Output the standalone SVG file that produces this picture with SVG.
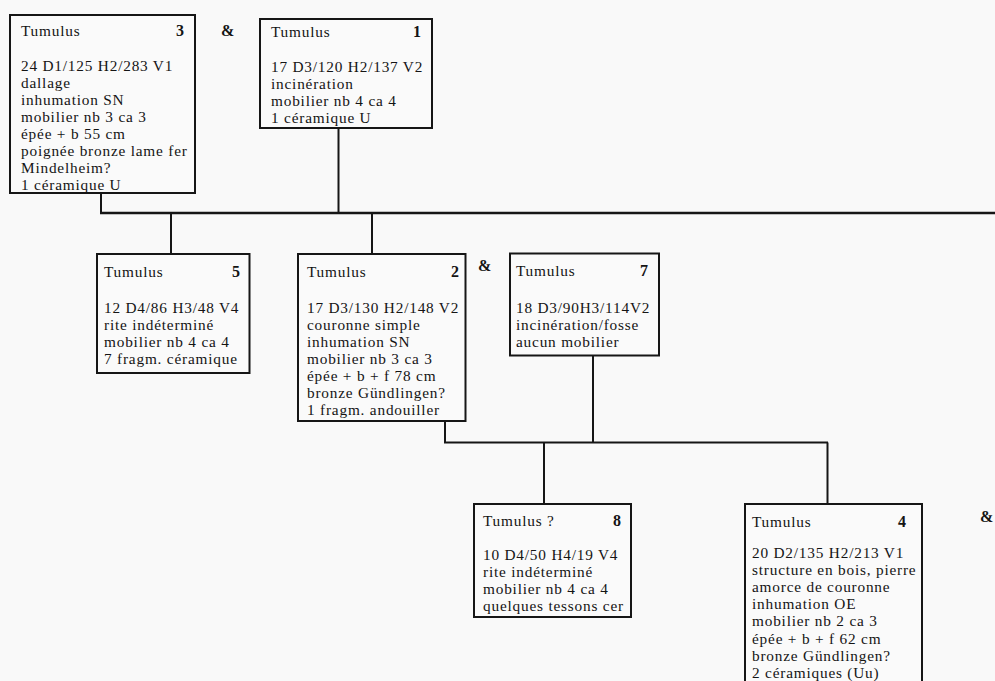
<svg xmlns="http://www.w3.org/2000/svg" width="995" height="681" viewBox="0 0 995 681">
<style>
.bg{fill:#f9f9f9}
.box{fill:#fafafa;stroke:#161616;stroke-width:2}
.c{stroke:#161616;stroke-width:2;fill:none}
.c2{stroke:#161616;stroke-width:2.6;fill:none}
text{font-family:"Liberation Serif","Times New Roman",serif;font-size:15.3px;letter-spacing:0.8px;fill:#141414}
.n{font-weight:bold;text-anchor:end;letter-spacing:0;font-size:16px}
.amp{font-weight:bold;letter-spacing:0;font-size:16px}
</style>
<rect class="bg" x="0" y="0" width="995" height="681"/>
<g id="connectors">
<path class="c" d="M101 193V213"/>
<path class="c" d="M338.5 128V213"/>
<path class="c2" d="M100 213H995"/>
<path class="c" d="M171 213V254"/>
<path class="c" d="M372 213V254"/>
<path class="c" d="M445 421V442.5"/>
<path class="c" d="M593 355V442.5"/>
<path class="c" d="M444 442.5H828"/>
<path class="c" d="M544 442.5V504"/>
<path class="c" d="M827.5 442.5V504"/>
</g>
<g id="amp1"><text class="amp" x="221" y="36">&amp;</text></g>
<g id="amp2"><text class="amp" x="478" y="271">&amp;</text></g>
<g id="amp3"><text class="amp" x="980" y="522">&amp;</text></g>
<g id="tumulus3">
<rect class="box" x="10" y="15" width="185" height="178"/>
<text x="21" y="36">Tumulus</text><text class="n" x="184" y="36">3</text>
<text x="21" y="70.5"><tspan x="21">24 D1/125 H2/283 V1</tspan><tspan x="21" dy="17.1">dallage</tspan><tspan x="21" dy="17.1">inhumation SN</tspan><tspan x="21" dy="17.1">mobilier nb 3 ca 3</tspan><tspan x="21" dy="17.1">épée + b 55 cm</tspan><tspan x="21" dy="17.1">poignée bronze lame fer</tspan><tspan x="21" dy="17.1">Mindelheim?</tspan><tspan x="21" dy="17.1">1 céramique U</tspan></text>
</g>
<g id="tumulus1">
<rect class="box" x="260" y="19" width="172" height="109"/>
<text x="271" y="37">Tumulus</text><text class="n" x="421" y="37">1</text>
<text x="271" y="71.7"><tspan x="271">17 D3/120 H2/137 V2</tspan><tspan x="271" dy="17">incinération</tspan><tspan x="271" dy="17">mobilier nb 4 ca 4</tspan><tspan x="271" dy="17">1 céramique U</tspan></text>
</g>
<g id="tumulus5">
<rect class="box" x="97" y="254" width="152.5" height="119"/>
<text x="104" y="276.5">Tumulus</text><text class="n" x="240" y="276.5">5</text>
<text x="104" y="313"><tspan x="104">12 D4/86 H3/48 V4</tspan><tspan x="104" dy="17">rite indéterminé</tspan><tspan x="104" dy="17">mobilier nb 4 ca 4</tspan><tspan x="104" dy="17">7 fragm. céramique</tspan></text>
</g>
<g id="tumulus2">
<rect class="box" x="298" y="254" width="167.5" height="167"/>
<text x="307" y="276.5">Tumulus</text><text class="n" x="459" y="276.5">2</text>
<text x="307" y="313"><tspan x="307">17 D3/130 H2/148 V2</tspan><tspan x="307" dy="17">couronne simple</tspan><tspan x="307" dy="17">inhumation SN</tspan><tspan x="307" dy="17">mobilier nb 3 ca 3</tspan><tspan x="307" dy="17">épée + b + f 78 cm</tspan><tspan x="307" dy="17">bronze Gündlingen?</tspan><tspan x="307" dy="17">1 fragm. andouiller</tspan></text>
</g>
<g id="tumulus7">
<rect class="box" x="510" y="253.5" width="149" height="102"/>
<text x="516" y="276">Tumulus</text><text class="n" x="648" y="276">7</text>
<text x="516" y="313"><tspan x="516">18 D3/90H3/114V2</tspan><tspan x="516" dy="17">incinération/fosse</tspan><tspan x="516" dy="17">aucun mobilier</tspan></text>
</g>
<g id="tumulus8">
<rect class="box" x="474" y="504" width="157" height="113"/>
<text x="483" y="525.5">Tumulus ?</text><text class="n" x="621" y="525.5">8</text>
<text x="483" y="560"><tspan x="483">10 D4/50 H4/19 V4</tspan><tspan x="483" dy="17">rite indéterminé</tspan><tspan x="483" dy="17">mobilier nb 4 ca 4</tspan><tspan x="483" dy="17">quelques tessons cer</tspan></text>
</g>
<g id="tumulus4">
<rect class="box" x="745" y="504" width="177" height="190"/>
<text x="752" y="526.5">Tumulus</text><text class="n" x="906" y="526.5">4</text>
<text x="752" y="558"><tspan x="752">20 D2/135 H2/213 V1</tspan><tspan x="752" dy="17.1">structure en bois, pierre</tspan><tspan x="752" dy="17.1">amorce de couronne</tspan><tspan x="752" dy="17.1">inhumation OE</tspan><tspan x="752" dy="17.1">mobilier nb 2 ca 3</tspan><tspan x="752" dy="17.1">épée + b + f 62 cm</tspan><tspan x="752" dy="17.1">bronze Gündlingen?</tspan><tspan x="752" dy="17.1">2 céramiques (Uu)</tspan></text>
</g>
</svg>
